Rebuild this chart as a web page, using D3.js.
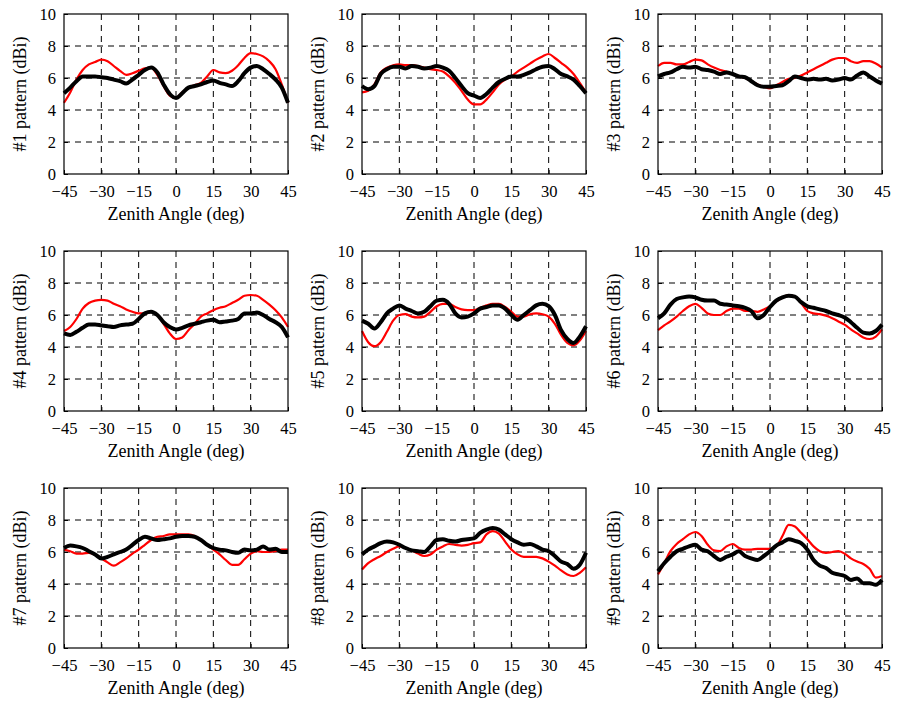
<!DOCTYPE html>
<html>
<head>
<meta charset="utf-8">
<script src="https://cdn.jsdelivr.net/npm/d3@7"></script>
<style>
  body { margin: 0; background: #fff; }
  svg { display: block; }
</style>
</head>
<body>
<svg id="chart" width="897" height="704"></svg>
<script>
// zenith angle samples (deg)
const angles = d3.range(-45, 45.01, 2.5);
const xTicks = [-45, -30, -15, 0, 15, 30, 45];
const yTicks = [0, 2, 4, 6, 8, 10];
const panelNames = ['#1 pattern (dBi)', '#2 pattern (dBi)', '#3 pattern (dBi)',
  '#4 pattern (dBi)', '#5 pattern (dBi)', '#6 pattern (dBi)',
  '#7 pattern (dBi)', '#8 pattern (dBi)', '#9 pattern (dBi)'];

// red curves (simulated)
const sim1 = [4.45,5.1,5.9,6.5,6.85,7.0,7.15,7.05,6.75,6.45,6.2,6.3,6.45,6.6,6.65,6.2,5.5,4.9,4.75,5.1,5.4,5.55,5.7,6.1,6.5,6.35,6.3,6.45,6.8,7.25,7.55,7.5,7.35,7.05,6.55,5.6,4.45];
const sim2 = [5.1,5.2,5.6,6.35,6.65,6.8,6.85,6.8,6.8,6.75,6.65,6.55,6.5,6.4,6.1,5.7,5.2,4.65,4.35,4.35,4.65,5.1,5.6,5.9,6.1,6.4,6.65,6.9,7.15,7.35,7.5,7.25,6.95,6.65,6.25,5.7,5.1];
const sim3 = [6.75,6.95,6.95,6.85,6.85,7.0,7.15,7.1,6.85,6.65,6.5,6.4,6.25,6.1,6.0,5.8,5.6,5.45,5.35,5.55,5.75,5.95,6.0,6.15,6.35,6.55,6.75,6.95,7.15,7.25,7.25,7.05,6.95,7.05,7.05,6.9,6.65];
const sim4 = [5.0,5.25,5.75,6.4,6.75,6.9,6.95,6.9,6.7,6.55,6.35,6.2,6.1,6.1,6.2,6.0,5.45,4.85,4.5,4.6,5.05,5.45,5.9,6.1,6.3,6.45,6.55,6.75,6.95,7.2,7.25,7.2,6.95,6.65,6.3,5.85,5.25];
const sim5 = [5.0,4.3,4.05,4.3,4.95,5.65,6.0,6.05,5.9,5.85,5.9,6.2,6.55,6.7,6.7,6.5,6.35,6.3,6.3,6.45,6.6,6.7,6.7,6.5,6.2,5.9,5.9,6.05,6.1,6.05,5.9,5.45,4.75,4.25,4.1,4.4,5.0];
const sim6 = [5.05,5.35,5.6,5.9,6.25,6.55,6.7,6.45,6.1,6.0,6.0,6.25,6.4,6.4,6.25,6.25,6.2,6.35,6.55,6.85,7.1,7.25,7.15,6.75,6.25,6.1,6.05,5.95,5.8,5.6,5.4,5.1,4.85,4.6,4.5,4.65,5.1];
const sim7 = [6.15,6.05,5.9,5.9,5.95,5.85,5.6,5.35,5.15,5.35,5.6,5.9,6.15,6.45,6.75,6.95,7.0,7.1,7.1,7.1,7.1,7.0,6.75,6.45,6.15,5.85,5.5,5.2,5.2,5.55,5.9,6.05,6.0,6.0,6.05,6.15,6.15];
const sim8 = [4.9,5.3,5.55,5.75,6.0,6.2,6.35,6.25,6.1,5.9,5.75,5.85,6.15,6.35,6.5,6.45,6.4,6.45,6.55,6.6,7.1,7.3,7.15,6.65,6.15,5.85,5.7,5.7,5.7,5.6,5.4,5.15,4.85,4.6,4.5,4.7,5.05];
const sim9 = [4.6,5.3,6.05,6.5,6.8,7.1,7.25,7.0,6.45,6.1,6.05,6.35,6.5,6.25,6.15,6.15,6.2,6.2,6.2,6.35,7.0,7.7,7.6,7.2,6.8,6.35,6.05,5.95,6.0,6.05,5.9,5.6,5.4,5.25,4.95,4.4,4.5];

// black curves (measured)
const meas1 = [5.05,5.4,5.8,6.1,6.1,6.1,6.05,6.0,5.9,5.8,5.65,5.9,6.2,6.5,6.65,6.35,5.6,5.0,4.75,5.05,5.4,5.5,5.6,5.75,5.85,5.7,5.6,5.5,5.8,6.3,6.65,6.75,6.55,6.25,5.9,5.4,4.45];
const meas2 = [5.5,5.3,5.5,6.25,6.55,6.7,6.7,6.6,6.75,6.7,6.6,6.65,6.75,6.65,6.45,6.0,5.5,5.05,4.9,4.75,5.0,5.4,5.75,5.95,6.1,6.1,6.2,6.35,6.55,6.7,6.75,6.55,6.25,6.1,5.9,5.5,5.05];
const meas3 = [6.1,6.25,6.35,6.55,6.7,6.65,6.7,6.55,6.5,6.4,6.25,6.35,6.25,6.1,6.05,5.8,5.55,5.45,5.45,5.5,5.55,5.8,6.1,6.0,5.9,5.95,5.9,5.95,5.85,5.9,6.0,5.9,6.15,6.35,6.1,5.85,5.65];
const meas4 = [4.85,4.75,4.95,5.2,5.4,5.4,5.35,5.3,5.25,5.35,5.4,5.45,5.75,6.1,6.2,6.0,5.55,5.25,5.1,5.2,5.35,5.45,5.55,5.65,5.7,5.55,5.6,5.65,5.75,6.1,6.1,6.15,6.0,5.75,5.55,5.25,4.6];
const meas5 = [5.65,5.45,5.15,5.55,6.1,6.4,6.6,6.4,6.25,6.1,6.2,6.55,6.9,6.95,6.7,6.1,5.85,5.9,6.1,6.4,6.5,6.6,6.6,6.4,6.0,5.7,6.0,6.3,6.6,6.7,6.55,6.0,5.05,4.5,4.25,4.65,5.3];
const meas6 = [5.8,6.1,6.65,7.0,7.1,7.15,7.1,6.95,6.9,6.9,6.7,6.65,6.6,6.55,6.45,6.25,5.8,6.0,6.5,6.9,7.1,7.2,7.15,6.8,6.55,6.45,6.35,6.25,6.1,6.0,5.85,5.55,5.2,4.9,4.85,5.0,5.4];
const meas7 = [6.25,6.4,6.35,6.25,6.05,5.85,5.6,5.7,5.85,6.0,6.15,6.45,6.75,6.95,6.85,6.75,6.8,6.85,6.95,7.0,7.0,6.95,6.75,6.45,6.25,6.15,6.1,6.0,5.95,6.15,6.1,6.15,6.35,6.15,6.2,6.0,6.0];
const meas8 = [5.85,6.15,6.35,6.55,6.65,6.6,6.45,6.25,6.1,6.05,6.0,6.35,6.75,6.8,6.7,6.65,6.75,6.8,6.85,7.2,7.4,7.5,7.4,7.1,6.8,6.6,6.45,6.5,6.35,6.15,6.05,5.75,5.4,5.25,4.95,5.2,5.95];
const meas9 = [4.8,5.3,5.7,6.05,6.2,6.35,6.45,6.15,6.05,5.75,5.5,5.7,5.85,6.05,5.75,5.6,5.5,5.75,6.05,6.4,6.6,6.8,6.7,6.55,6.15,5.5,5.15,5.0,4.7,4.6,4.5,4.25,4.35,4.05,4.05,3.95,4.25];

const simSeries = [sim1, sim2, sim3, sim4, sim5, sim6, sim7, sim8, sim9];
const measSeries = [meas1, meas2, meas3, meas4, meas5, meas6, meas7, meas8, meas9];

const font = '"Liberation Serif", "Times New Roman", Times, "DejaVu Serif", serif';
const svg = d3.select('#chart');
const colLeft = [64, 362, 658];
const rowTop = [14, 251, 488];
const width = 224;
const height = 160;

const x = d3.scaleLinear().domain([-45, 45]).range([0, width]);
const y = d3.scaleLinear().domain([0, 10]).range([height, 0]);

const line = d3.line()
  .x(d => x(d[0]))
  .y(d => y(d[1]))
  .curve(d3.curveMonotoneX);

panelNames.forEach((name, i) => {
  const g = svg.append('g')
    .attr('transform', `translate(${colLeft[i % 3]},${rowTop[Math.floor(i / 3)]})`);

  // dashed grid
  g.append('g').selectAll('line')
    .data(xTicks.slice(1, -1))
    .enter().append('line')
      .attr('x1', d => x(d)).attr('x2', d => x(d))
      .attr('y1', 0).attr('y2', height)
      .attr('stroke', '#000').attr('stroke-width', 1)
      .attr('stroke-dasharray', '6,5');
  g.append('g').selectAll('line')
    .data(yTicks.slice(1, -1))
    .enter().append('line')
      .attr('y1', d => y(d)).attr('y2', d => y(d))
      .attr('x1', 0).attr('x2', width)
      .attr('stroke', '#000').attr('stroke-width', 1)
      .attr('stroke-dasharray', '6,5');

  // axes with small inward ticks
  const xAxis = g.append('g')
    .attr('transform', `translate(0,${height})`)
    .call(d3.axisBottom(x).tickValues(xTicks).tickSizeInner(-4).tickSizeOuter(0).tickPadding(11));
  const yAxis = g.append('g')
    .call(d3.axisLeft(y).tickValues(yTicks).tickSizeInner(-4).tickSizeOuter(0).tickPadding(8));
  [xAxis, yAxis].forEach(a => {
    a.attr('font-family', font).attr('font-size', 16.5);
    a.select('.domain').remove();
    a.selectAll('text').attr('fill', '#000');
  });

  const simPts = angles.map((a, k) => [a, simSeries[i][k]]);
  const measPts = angles.map((a, k) => [a, measSeries[i][k]]);

  g.append('path')
    .attr('d', line(simPts))
    .attr('fill', 'none')
    .attr('stroke', '#ff0000')
    .attr('stroke-width', 2.2);

  g.append('path')
    .attr('d', line(measPts))
    .attr('fill', 'none')
    .attr('stroke', '#000')
    .attr('stroke-width', 4)
    .attr('stroke-linejoin', 'round');

  g.append('rect')
    .attr('width', width).attr('height', height)
    .attr('fill', 'none').attr('stroke', '#000').attr('stroke-width', 1.2);

  g.append('text')
    .attr('x', width / 2)
    .attr('y', height + 46)
    .attr('text-anchor', 'middle')
    .attr('font-family', font)
    .attr('font-size', 18)
    .text('Zenith Angle (deg)');

  g.append('text')
    .attr('transform', `translate(-38,${height / 2}) rotate(-90)`)
    .attr('text-anchor', 'middle')
    .attr('font-family', font)
    .attr('font-size', 18)
    .text(name);
});
</script>
</body>
</html>
